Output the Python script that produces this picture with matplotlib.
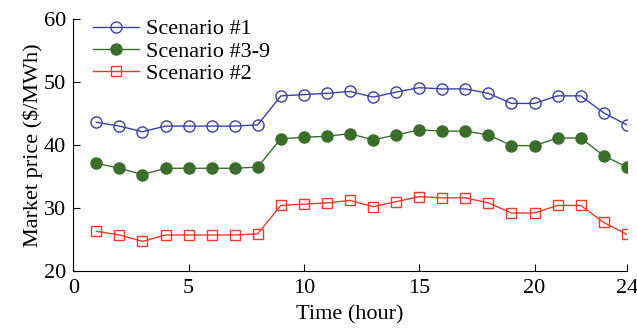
import matplotlib
matplotlib.use("Agg")
import matplotlib.pyplot as plt

hours = list(range(1, 25))
s1 = [43.6, 43.0, 42.1, 43.0, 43.0, 43.0, 43.0, 43.2, 47.8, 48.0, 48.2, 48.5,
      47.6, 48.4, 49.1, 48.9, 48.9, 48.2, 46.6, 46.6, 47.8, 47.8, 45.1, 43.2]
s39 = [37.1, 36.3, 35.3, 36.3, 36.3, 36.3, 36.3, 36.5, 41.0, 41.2, 41.4, 41.8,
       40.8, 41.6, 42.4, 42.2, 42.2, 41.6, 39.9, 39.9, 41.1, 41.1, 38.3, 36.5]
s2 = [26.3, 25.7, 24.7, 25.7, 25.7, 25.7, 25.7, 25.9, 30.4, 30.6, 30.8, 31.2,
      30.2, 31.0, 31.8, 31.6, 31.6, 30.8, 29.2, 29.2, 30.4, 30.4, 27.7, 25.8]

plt.rcParams["font.family"] = ["Liberation Serif", "DejaVu Serif"]
plt.rcParams["font.size"] = 16

fig = plt.figure(figsize=(6.37, 3.28), dpi=100)
ax = fig.add_axes([0.115, 0.174, 0.869, 0.768])

ax.plot(hours, s1, color="#3c40a0", lw=1, marker="o", ms=8, mfc="none", mew=1, label="Scenario #1")
ax.plot(hours, s39, color="#3b6e2c", lw=1, marker="o", ms=8, mfc="#3b6e2c", mew=1, label="Scenario #3-9")
ax.plot(hours, s2, color="#ec3a2c", lw=1, marker="s", ms=6.5, mfc="none", mew=1, label="Scenario #2")

ax.set_xlim(0, 24)
ax.set_ylim(20, 60)
ax.set_xticks([0, 5, 10, 15, 20, 24])
ax.set_yticks([20, 30, 40, 50, 60])
ax.tick_params(direction="in", length=5, top=False, right=False)
ax.tick_params(axis="x", pad=6)
ax.tick_params(axis="y", pad=5)
ax.spines["top"].set_visible(False)
ax.spines["right"].set_visible(False)
ax.set_xlabel("Time (hour)", labelpad=5)
ax.set_ylabel("Market price ($/MWh)", labelpad=1)

ax.legend(loc="upper left", frameon=False, handlelength=2.1, handletextpad=0.3,
          borderaxespad=0.1, labelspacing=0.08, bbox_to_anchor=(0.015, 1.045))

fig.savefig("out.png", dpi=100)
